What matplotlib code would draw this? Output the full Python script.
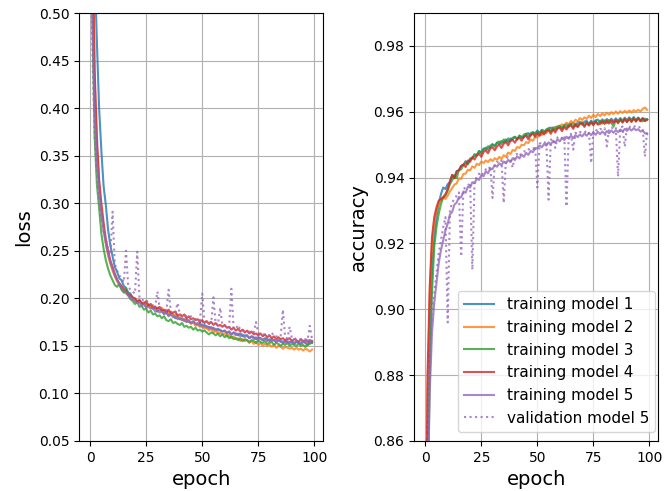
import matplotlib
matplotlib.use("Agg")
import matplotlib.pyplot as plt
import numpy as np

epochs = np.arange(100)

# training / validation loss per epoch
loss_m1 = [1.10, 0.72, 0.55, 0.47, 0.40, 0.355, 0.318, 0.298, 0.272, 0.256,
           0.244, 0.233, 0.228, 0.221, 0.219, 0.213, 0.211, 0.206, 0.205, 0.200,
           0.199, 0.196, 0.198, 0.194, 0.195, 0.191, 0.193, 0.192, 0.189, 0.190,
           0.186, 0.188, 0.187, 0.184, 0.186, 0.182, 0.183, 0.183, 0.179, 0.181,
           0.178, 0.179, 0.176, 0.178, 0.175, 0.174, 0.176, 0.173, 0.172, 0.174,
           0.170, 0.172, 0.169, 0.170, 0.168, 0.169, 0.166, 0.168, 0.166, 0.165,
           0.166, 0.163, 0.165, 0.162, 0.164, 0.163, 0.161, 0.163, 0.160, 0.161,
           0.161, 0.158, 0.160, 0.159, 0.157, 0.159, 0.158, 0.156, 0.158, 0.157,
           0.155, 0.157, 0.156, 0.154, 0.156, 0.155, 0.153, 0.155, 0.154, 0.153,
           0.155, 0.152, 0.154, 0.153, 0.152, 0.154, 0.153, 0.151, 0.154, 0.153]
loss_m2 = [1.05, 0.58, 0.43, 0.36, 0.32, 0.292, 0.272, 0.257, 0.245, 0.236,
           0.229, 0.223, 0.218, 0.214, 0.210, 0.207, 0.205, 0.203, 0.201, 0.199,
           0.198, 0.196, 0.197, 0.194, 0.196, 0.192, 0.194, 0.190, 0.193, 0.189,
           0.190, 0.188, 0.190, 0.186, 0.188, 0.184, 0.186, 0.182, 0.183, 0.180,
           0.180, 0.177, 0.178, 0.175, 0.177, 0.173, 0.175, 0.171, 0.172, 0.170,
           0.171, 0.168, 0.169, 0.166, 0.168, 0.164, 0.166, 0.163, 0.164, 0.162,
           0.163, 0.160, 0.162, 0.158, 0.160, 0.157, 0.158, 0.155, 0.157, 0.155,
           0.156, 0.153, 0.155, 0.152, 0.154, 0.151, 0.153, 0.150, 0.152, 0.150,
           0.151, 0.149, 0.151, 0.148, 0.150, 0.149, 0.147, 0.149, 0.148, 0.147,
           0.148, 0.146, 0.148, 0.146, 0.147, 0.145, 0.147, 0.146, 0.144, 0.146]
loss_m3 = [1.00, 0.49, 0.37, 0.32, 0.295, 0.268, 0.252, 0.240, 0.231, 0.224,
           0.219, 0.214, 0.212, 0.215, 0.209, 0.206, 0.210, 0.203, 0.199, 0.197,
           0.194, 0.196, 0.191, 0.192, 0.188, 0.189, 0.185, 0.187, 0.183, 0.184,
           0.181, 0.182, 0.179, 0.181, 0.177, 0.176, 0.178, 0.174, 0.175, 0.173,
           0.172, 0.174, 0.170, 0.171, 0.169, 0.170, 0.167, 0.169, 0.166, 0.167,
           0.165, 0.166, 0.164, 0.162, 0.164, 0.163, 0.161, 0.163, 0.160, 0.162,
           0.159, 0.161, 0.158, 0.160, 0.157, 0.158, 0.156, 0.158, 0.155, 0.157,
           0.156, 0.154, 0.156, 0.155, 0.153, 0.156, 0.154, 0.153, 0.155, 0.152,
           0.153, 0.154, 0.151, 0.153, 0.152, 0.150, 0.152, 0.151, 0.153, 0.150,
           0.152, 0.151, 0.150, 0.152, 0.150, 0.151, 0.149, 0.151, 0.152, 0.154]
loss_m4 = [1.05, 0.60, 0.44, 0.37, 0.325, 0.30, 0.28, 0.262, 0.250, 0.240,
           0.233, 0.226, 0.220, 0.216, 0.213, 0.210, 0.207, 0.204, 0.203, 0.201,
           0.200, 0.197, 0.198, 0.195, 0.194, 0.197, 0.192, 0.194, 0.190, 0.191,
           0.189, 0.191, 0.187, 0.188, 0.185, 0.188, 0.184, 0.185, 0.186, 0.182,
           0.183, 0.181, 0.183, 0.179, 0.181, 0.178, 0.179, 0.177, 0.178, 0.175,
           0.177, 0.174, 0.176, 0.173, 0.175, 0.172, 0.174, 0.171, 0.172, 0.170,
           0.172, 0.169, 0.170, 0.167, 0.169, 0.166, 0.168, 0.165, 0.167, 0.164,
           0.166, 0.163, 0.165, 0.162, 0.163, 0.161, 0.163, 0.160, 0.162, 0.159,
           0.161, 0.158, 0.160, 0.157, 0.159, 0.157, 0.158, 0.156, 0.157, 0.158,
           0.155, 0.157, 0.156, 0.154, 0.157, 0.155, 0.156, 0.154, 0.156, 0.155]
loss_m5 = [1.15, 0.50, 0.40, 0.345, 0.315, 0.29, 0.272, 0.258, 0.247, 0.238,
           0.231, 0.224, 0.219, 0.215, 0.211, 0.209, 0.206, 0.203, 0.201, 0.199,
           0.197, 0.195, 0.196, 0.192, 0.194, 0.190, 0.191, 0.189, 0.190, 0.186,
           0.187, 0.185, 0.186, 0.183, 0.185, 0.181, 0.183, 0.180, 0.181, 0.178,
           0.179, 0.177, 0.178, 0.175, 0.177, 0.174, 0.175, 0.173, 0.174, 0.171,
           0.172, 0.170, 0.171, 0.168, 0.170, 0.167, 0.168, 0.166, 0.167, 0.165,
           0.166, 0.164, 0.165, 0.162, 0.164, 0.161, 0.163, 0.160, 0.162, 0.159,
           0.161, 0.158, 0.160, 0.157, 0.159, 0.157, 0.158, 0.156, 0.157, 0.155,
           0.157, 0.155, 0.156, 0.154, 0.156, 0.154, 0.155, 0.153, 0.155, 0.154,
           0.155, 0.153, 0.155, 0.154, 0.153, 0.155, 0.154, 0.156, 0.154, 0.155]
val_loss_m5 = [0.60, 0.46, 0.37, 0.33, 0.30, 0.283, 0.270, 0.262, 0.252, 0.246,
               0.291, 0.236, 0.229, 0.224, 0.221, 0.217, 0.250, 0.212, 0.209, 0.207,
               0.205, 0.249, 0.200, 0.199, 0.197, 0.198, 0.195, 0.193, 0.194, 0.191,
               0.207, 0.190, 0.189, 0.188, 0.187, 0.209, 0.186, 0.184, 0.185, 0.195,
               0.183, 0.182, 0.183, 0.181, 0.180, 0.181, 0.179, 0.178, 0.179, 0.177,
               0.205, 0.176, 0.175, 0.176, 0.174, 0.201, 0.173, 0.172, 0.190, 0.171,
               0.171, 0.170, 0.169, 0.210, 0.168, 0.168, 0.172, 0.167, 0.166, 0.166,
               0.165, 0.165, 0.164, 0.164, 0.175, 0.163, 0.163, 0.162, 0.162, 0.161,
               0.161, 0.164, 0.160, 0.160, 0.159, 0.160, 0.188, 0.159, 0.158, 0.170,
               0.158, 0.157, 0.158, 0.157, 0.157, 0.156, 0.157, 0.156, 0.171, 0.157]

# training / validation accuracy per epoch
acc_m1 = [0.75, 0.855, 0.890, 0.912, 0.922, 0.928, 0.932, 0.935, 0.9370, 0.9365,
          0.9380, 0.9385, 0.9408, 0.9398, 0.9420, 0.9422, 0.9436, 0.9438, 0.9450, 0.9442,
          0.9458, 0.9460, 0.9471, 0.9469, 0.9481, 0.9477, 0.9488, 0.9485, 0.9495, 0.9492,
          0.9500, 0.9497, 0.9506, 0.9502, 0.9511, 0.9507, 0.9516, 0.9508, 0.9519, 0.9516,
          0.9524, 0.9517, 0.9527, 0.9524, 0.9522, 0.9533, 0.9535, 0.9527, 0.9538, 0.9534,
          0.9543, 0.9535, 0.9545, 0.9542, 0.9540, 0.9550, 0.9552, 0.9544, 0.9554, 0.9550,
          0.9558, 0.9550, 0.9560, 0.9562, 0.9554, 0.9564, 0.9566, 0.9557, 0.9567, 0.9569,
          0.9561, 0.9570, 0.9572, 0.9563, 0.9573, 0.9565, 0.9574, 0.9576, 0.9567, 0.9577,
          0.9569, 0.9578, 0.9570, 0.9579, 0.9571, 0.9580, 0.9572, 0.9581, 0.9573, 0.9582,
          0.9574, 0.9583, 0.9575, 0.9584, 0.9574, 0.9582, 0.9573, 0.9581, 0.9572, 0.9577]
acc_m2 = [0.79, 0.875, 0.905, 0.920, 0.926, 0.930, 0.932, 0.933, 0.934, 0.9335,
          0.9345, 0.9358, 0.9368, 0.9379, 0.9382, 0.9398, 0.9396, 0.9411, 0.9412, 0.9424,
          0.9422, 0.9434, 0.9430, 0.9442, 0.9438, 0.9449, 0.9444, 0.9452, 0.9447, 0.9456,
          0.9450, 0.9459, 0.9454, 0.9463, 0.9457, 0.9468, 0.9463, 0.9476, 0.9472, 0.9484,
          0.9481, 0.9493, 0.9490, 0.9500, 0.9498, 0.9508, 0.9505, 0.9516, 0.9512, 0.9523,
          0.9522, 0.9532, 0.9529, 0.9539, 0.9535, 0.9546, 0.9542, 0.9552, 0.9548, 0.9557,
          0.9554, 0.9562, 0.9557, 0.9567, 0.9562, 0.9572, 0.9566, 0.9576, 0.9570, 0.9581,
          0.9575, 0.9583, 0.9578, 0.9588, 0.9581, 0.9591, 0.9584, 0.9593, 0.9587, 0.9595,
          0.9589, 0.9597, 0.9591, 0.9599, 0.9593, 0.9601, 0.9594, 0.9602, 0.9596, 0.9603,
          0.9597, 0.9604, 0.9598, 0.9605, 0.9600, 0.9606, 0.9601, 0.9609, 0.9613, 0.9606]
acc_m3 = [0.70, 0.840, 0.880, 0.905, 0.919, 0.925, 0.929, 0.932, 0.934, 0.9345,
          0.9360, 0.9380, 0.9392, 0.9408, 0.9398, 0.9423, 0.9425, 0.9438, 0.9446, 0.9440,
          0.9455, 0.9458, 0.9468, 0.9466, 0.9480, 0.9473, 0.9487, 0.9491, 0.9484, 0.9497,
          0.9502, 0.9494, 0.9506, 0.9510, 0.9502, 0.9516, 0.9508, 0.9519, 0.9511, 0.9521,
          0.9524, 0.9515, 0.9528, 0.9520, 0.9531, 0.9533, 0.9524, 0.9535, 0.9538, 0.9530,
          0.9541, 0.9533, 0.9544, 0.9536, 0.9547, 0.9549, 0.9540, 0.9552, 0.9544, 0.9554,
          0.9556, 0.9547, 0.9559, 0.9551, 0.9560, 0.9563, 0.9553, 0.9564, 0.9556, 0.9566,
          0.9568, 0.9558, 0.9569, 0.9560, 0.9570, 0.9562, 0.9572, 0.9563, 0.9573, 0.9564,
          0.9574, 0.9565, 0.9575, 0.9567, 0.9555, 0.9576, 0.9568, 0.9578, 0.9569, 0.9579,
          0.9570, 0.9580, 0.9571, 0.9581, 0.9572, 0.9582, 0.9573, 0.9571, 0.9579, 0.9576]
acc_m4 = [0.80, 0.880, 0.907, 0.922, 0.928, 0.931, 0.933, 0.9335, 0.934, 0.935,
          0.9365, 0.9390, 0.9408, 0.9398, 0.9418, 0.9422, 0.9435, 0.9440, 0.9432, 0.9452,
          0.9448, 0.9462, 0.9455, 0.9468, 0.9472, 0.9463, 0.9478, 0.9482, 0.9474, 0.9488,
          0.9492, 0.9483, 0.9495, 0.9500, 0.9490, 0.9503, 0.9508, 0.9498, 0.9512, 0.9514,
          0.9506, 0.9518, 0.9521, 0.9512, 0.9524, 0.9527, 0.9516, 0.9530, 0.9533, 0.9524,
          0.9535, 0.9527, 0.9539, 0.9531, 0.9541, 0.9544, 0.9533, 0.9546, 0.9537, 0.9549,
          0.9551, 0.9541, 0.9554, 0.9546, 0.9556, 0.9559, 0.9548, 0.9561, 0.9553, 0.9563,
          0.9565, 0.9554, 0.9566, 0.9558, 0.9568, 0.9559, 0.9570, 0.9561, 0.9563, 0.9572,
          0.9563, 0.9573, 0.9564, 0.9574, 0.9566, 0.9575, 0.9565, 0.9576, 0.9567, 0.9577,
          0.9568, 0.9578, 0.9569, 0.9579, 0.9570, 0.9580, 0.9571, 0.9580, 0.9572, 0.9576]
acc_m5 = [0.74, 0.840, 0.875, 0.893, 0.902, 0.908, 0.914, 0.918, 0.921, 0.924,
          0.9260, 0.9288, 0.9296, 0.9318, 0.9324, 0.9341, 0.9340, 0.9358, 0.9354, 0.9372,
          0.9370, 0.9386, 0.9383, 0.9397, 0.9393, 0.9408, 0.9404, 0.9419, 0.9413, 0.9428,
          0.9426, 0.9438, 0.9433, 0.9443, 0.9438, 0.9449, 0.9443, 0.9454, 0.9447, 0.9459,
          0.9453, 0.9465, 0.9458, 0.9470, 0.9463, 0.9475, 0.9469, 0.9481, 0.9477, 0.9490,
          0.9489, 0.9498, 0.9492, 0.9502, 0.9497, 0.9507, 0.9501, 0.9512, 0.9506, 0.9516,
          0.9510, 0.9520, 0.9514, 0.9524, 0.9518, 0.9527, 0.9520, 0.9529, 0.9523, 0.9531,
          0.9525, 0.9534, 0.9527, 0.9536, 0.9529, 0.9537, 0.9530, 0.9539, 0.9532, 0.9540,
          0.9533, 0.9541, 0.9535, 0.9543, 0.9536, 0.9544, 0.9538, 0.9546, 0.9540, 0.9548,
          0.9542, 0.9549, 0.9543, 0.9550, 0.9544, 0.9547, 0.9540, 0.9542, 0.9535, 0.9532]
val_acc_m5 = [0.80, 0.862, 0.888, 0.900, 0.905, 0.911, 0.917, 0.921, 0.925, 0.928,
              0.896, 0.930, 0.9325, 0.9335, 0.9345, 0.9355, 0.916, 0.9365, 0.937, 0.9375,
              0.9385, 0.912, 0.9395, 0.940, 0.9412, 0.9405, 0.9418, 0.9425, 0.9422, 0.9435,
              0.9338, 0.9442, 0.9448, 0.9445, 0.9452, 0.9323, 0.9458, 0.9462, 0.9455, 0.9430,
              0.9468, 0.9472, 0.9465, 0.9476, 0.9480, 0.9478, 0.9485, 0.9490, 0.9487, 0.9495,
              0.937, 0.9503, 0.9508, 0.9505, 0.9512, 0.9333, 0.9515, 0.9518, 0.9490, 0.9522,
              0.9525, 0.9520, 0.9528, 0.9312, 0.9530, 0.9533, 0.9485, 0.9536, 0.9532, 0.9538,
              0.9540, 0.9537, 0.9542, 0.9539, 0.9444, 0.9543, 0.9546, 0.9541, 0.9548, 0.9545,
              0.9550, 0.9495, 0.9549, 0.9552, 0.9548, 0.9553, 0.9403, 0.9552, 0.9555, 0.9494,
              0.9556, 0.9553, 0.9558, 0.9555, 0.9557, 0.9552, 0.9554, 0.9549, 0.9464, 0.9548]

train_loss = [loss_m1, loss_m2, loss_m3, loss_m4, loss_m5]
train_acc = [acc_m1, acc_m2, acc_m3, acc_m4, acc_m5]
labels = ["training model 1", "training model 2", "training model 3",
          "training model 4", "training model 5"]
colors = ["C0", "C1", "C2", "C3", "C4"]

fig, (ax_l, ax_a) = plt.subplots(1, 2, figsize=(6.7, 4.91), dpi=100)
fig.subplots_adjust(left=0.118, right=0.9825, bottom=0.102, top=0.9735, wspace=0.373)

for vals, lab, col in zip(train_loss, labels, colors):
    ax_l.plot(epochs, vals, color=col, alpha=0.8, lw=1.5, label=lab)
ax_l.plot(epochs, val_loss_m5, color="C4", alpha=0.8, lw=1.5, ls=":",
          label="validation model 5")
ax_l.set_ylim(0.05, 0.5)
ax_l.set_yticks(np.arange(0.05, 0.501, 0.05))
ax_l.set_xlabel("epoch", fontsize=14)
ax_l.set_ylabel("loss", fontsize=14)
ax_l.grid(True)

for vals, lab, col in zip(train_acc, labels, colors):
    ax_a.plot(epochs, vals, color=col, alpha=0.8, lw=1.5, label=lab)
ax_a.plot(epochs, val_acc_m5, color="C4", alpha=0.8, lw=1.5, ls=":",
          label="validation model 5")
ax_a.set_ylim(0.86, 0.99)
ax_a.set_yticks(np.arange(0.86, 0.981, 0.02))
ax_a.set_xlabel("epoch", fontsize=14)
ax_a.set_ylabel("accuracy", fontsize=14)
ax_a.grid(True)
ax_a.legend(loc="lower right", fontsize=11, bbox_to_anchor=(1.018, 0.0035))

for ax in (ax_l, ax_a):
    ax.set_xticks([0, 25, 50, 75, 100])

fig.savefig("out.png", dpi=100)
